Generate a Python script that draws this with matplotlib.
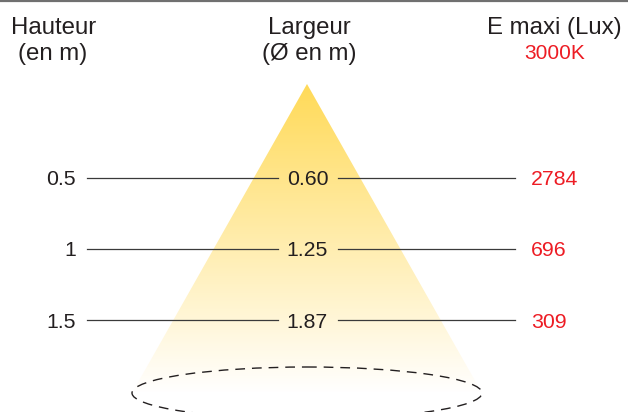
import numpy as np
import matplotlib
matplotlib.use("Agg")
from matplotlib import pyplot as plt
from matplotlib.patches import Polygon, Ellipse

plt.rcParams['font.family'] = ['Liberation Sans', 'DejaVu Sans']

# chart data
heights = [0.5, 1, 1.5]
height_labels = ["0.5", "1", "1.5"]
widths = ["0.60", "1.25", "1.87"]
lux = [2784, 696, 309]
head_h = ["Hauteur", "(en m)"]
head_w = ["Largeur", "(Ø en m)"]
head_e = "E maxi (Lux)"
cct = "3000K"

TXT = '#231f20'
RED = '#ed1c24'

W, H = 628, 412
fig = plt.figure(figsize=(W / 100, H / 100), dpi=100)
ax = fig.add_axes([0, 0, 1, 1])
ax.set_xlim(0, W)
# y axis in metres: row at h sits at pixel 106 + 143*h
def py2m(p):
    return (p - 106.0) / 143.0
ax.set_ylim(py2m(H), py2m(0))
ax.axis('off')

cx = 307
apex = (cx, py2m(84))
base_y = py2m(393)
tri = Polygon([apex, (132, base_y), (482, base_y)], closed=True,
              facecolor='none', edgecolor='none')
ax.add_patch(tri)

# vertical yellow -> white gradient clipped to cone
n = 256
t = np.linspace(0, 1, n)[:, None]
top = np.array([255, 218, 88]) / 255.0
col = top[None, :] * (1 - t) + np.ones(3)[None, :] * t
img = np.repeat(col[:, None, :], 2, axis=1)
im = ax.imshow(img, extent=[132, 482, base_y, apex[1]], aspect='auto',
               interpolation='bilinear', zorder=1)
im.set_clip_path(tri)

# dashed ground ellipse
ax.add_patch(Ellipse((cx, py2m(393)), 350, 52 / 143.0, fill=False,
                     edgecolor=TXT, lw=1.0, ls=(0, (7, 5)), zorder=2))

# rows
fs = 15.3
for h, hl, w, lx in zip(heights, height_labels, widths, lux):
    ax.plot([87, 278], [h, h], color='#3a3a3a', lw=0.9, zorder=3)
    ax.plot([338, 515], [h, h], color='#3a3a3a', lw=0.9, zorder=3)
    ax.text(76, h, hl, ha='right', va='center_baseline', fontsize=fs, color=TXT, zorder=4)
    ax.text(cx + 0.5, h, w, ha='center', va='center_baseline', fontsize=fs, color=TXT, zorder=4)
    ax.text(531, h, str(lx), ha='left', va='center_baseline', fontsize=fs, color=RED, zorder=4)

# headers
hs = 17.3
ax.text(54, py2m(34), head_h[0], ha='center', va='baseline', fontsize=hs, color=TXT)
ax.text(53, py2m(60), head_h[1], ha='center', va='baseline', fontsize=hs, color=TXT)
ax.text(309, py2m(34), head_w[0], ha='center', va='baseline', fontsize=hs, color=TXT)
ax.text(309.5, py2m(60), head_w[1], ha='center', va='baseline', fontsize=hs, color=TXT)
ax.text(554, py2m(34), head_e, ha='center', va='baseline', fontsize=hs, color=TXT)
ax.text(555, py2m(59), cct, ha='center', va='baseline', fontsize=15, color=RED)

# top border line
ax.plot([0, W], [py2m(0.8), py2m(0.8)], color='#707070', lw=1.6, clip_on=False)

fig.savefig('out.png', dpi=100)
